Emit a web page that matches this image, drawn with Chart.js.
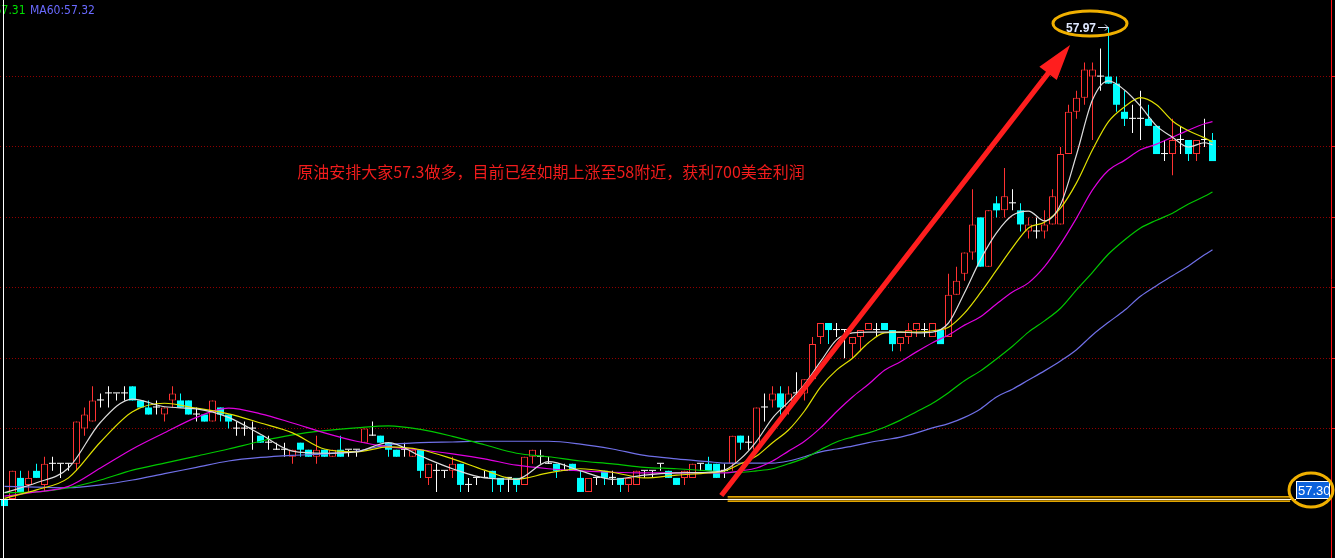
<!DOCTYPE html>
<html>
<head>
<meta charset="utf-8">
<script src="https://cdn.jsdelivr.net/npm/chart.js@4/dist/chart.umd.min.js"></script>
<style>
  html, body { margin: 0; padding: 0; background: #000; overflow: hidden; }
  #wrap { position: relative; width: 1335px; height: 558px; }
</style>
</head>
<body>
<div id="wrap"><canvas id="c" width="1335" height="558"></canvas></div>
<script>
// ---- crude oil candles (open / high / low / close), one per bar ----
const opens = [
  57.30,57.30,57.33,57.32,57.34,57.32,57.35,57.35,57.35,57.35,
  57.40,57.41,57.44,57.45,57.45,57.45,57.46,57.44,57.43,57.43,
  57.42,57.44,57.44,57.44,57.42,57.42,57.41,57.43,57.42,57.40,
  57.40,57.40,57.39,57.38,57.37,57.37,57.36,57.38,57.37,57.36,
  57.37,57.36,57.37,57.37,57.37,57.38,57.39,57.39,57.38,57.37,
  57.37,57.36,57.37,57.33,57.34,57.34,57.34,57.35,57.32,57.33,
  57.33,57.34,57.33,57.33,57.33,57.32,57.36,57.36,57.35,57.35,
  57.34,57.35,57.33,57.31,57.33,57.34,57.33,57.33,57.32,57.32,
  57.34,57.34,57.35,57.34,57.33,57.33,57.33,57.35,57.35,57.35,
  57.34,57.35,57.39,57.38,57.37,57.43,57.44,57.45,57.43,57.45,
  57.45,57.47,57.53,57.55,57.54,57.54,57.52,57.53,57.54,57.54,
  57.55,57.54,57.52,57.53,57.54,57.54,57.53,57.54,57.53,57.59,
  57.62,57.65,57.70,57.63,57.72,57.71,57.72,57.71,57.68,57.68,
  57.68,57.69,57.69,57.79,57.85,57.87,57.90,57.90,57.90,57.89,
  57.85,57.84,57.84,57.84,57.83,57.79,57.79,57.81,57.81,57.79,
  57.81,57.81
];
const highs = [
  57.30,57.34,57.34,57.34,57.35,57.36,57.36,57.35,57.35,57.41,
  57.43,57.46,57.45,57.46,57.45,57.46,57.46,57.44,57.44,57.44,
  57.43,57.46,57.45,57.44,57.43,57.42,57.44,57.43,57.42,57.41,
  57.41,57.41,57.39,57.39,57.38,57.38,57.37,57.38,57.37,57.39,
  57.37,57.37,57.39,57.37,57.37,57.40,57.41,57.39,57.38,57.37,
  57.38,57.37,57.37,57.35,57.35,57.34,57.36,57.35,57.33,57.33,
  57.34,57.34,57.33,57.33,57.33,57.36,57.37,57.37,57.36,57.35,
  57.35,57.35,57.34,57.33,57.33,57.34,57.34,57.33,57.33,57.34,
  57.34,57.34,57.35,57.34,57.33,57.34,57.35,57.35,57.36,57.35,
  57.35,57.39,57.39,57.39,57.43,57.45,57.46,57.46,57.46,57.48,
  57.47,57.53,57.55,57.55,57.55,57.54,57.53,57.54,57.55,57.55,
  57.55,57.54,57.53,57.55,57.55,57.55,57.55,57.54,57.62,57.63,
  57.65,57.74,57.70,57.71,57.73,57.77,57.74,57.72,57.70,57.70,
  57.71,57.74,57.80,57.86,57.88,57.92,57.92,57.94,57.97,57.90,
  57.88,57.86,57.88,57.86,57.83,57.81,57.84,57.83,57.81,57.81,
  57.84,57.82
];
const lows = [
  57.29,57.30,57.31,57.31,57.33,57.31,57.34,57.33,57.34,57.34,
  57.39,57.41,57.43,57.43,57.44,57.44,57.44,57.43,57.42,57.42,
  57.41,57.43,57.43,57.42,57.41,57.41,57.41,57.41,57.40,57.39,
  57.39,57.37,57.38,57.37,57.37,57.36,57.35,57.36,57.36,57.35,
  57.36,57.36,57.36,57.36,57.36,57.38,57.39,57.38,57.36,57.36,
  57.36,57.36,57.33,57.32,57.31,57.33,57.33,57.31,57.31,57.32,
  57.33,57.31,57.31,57.31,57.31,57.32,57.35,57.35,57.35,57.33,
  57.34,57.34,57.31,57.31,57.32,57.32,57.32,57.31,57.31,57.32,
  57.33,57.33,57.34,57.33,57.32,57.32,57.33,57.34,57.34,57.33,
  57.33,57.34,57.37,57.37,57.37,57.41,57.43,57.42,57.42,57.44,
  57.44,57.47,57.52,57.52,57.53,57.50,57.50,57.51,57.54,57.53,
  57.54,57.51,57.51,57.52,57.53,57.53,57.53,57.52,57.53,57.59,
  57.61,57.64,57.63,57.63,57.70,57.70,57.71,57.68,57.67,57.67,
  57.67,57.69,57.69,57.79,57.84,57.86,57.81,57.88,57.89,57.85,
  57.83,57.82,57.81,57.83,57.79,57.78,57.76,57.79,57.78,57.78,
  57.80,57.78
];
const closes = [
  57.29,57.34,57.31,57.33,57.33,57.35,57.35,57.35,57.35,57.41,
  57.42,57.44,57.44,57.45,57.45,57.45,57.44,57.43,57.42,57.43,
  57.43,57.45,57.43,57.42,57.42,57.41,57.44,57.42,57.41,57.40,
  57.40,57.40,57.38,57.38,57.37,57.37,57.37,57.37,57.36,57.37,
  57.36,57.37,57.36,57.37,57.37,57.40,57.39,57.38,57.37,57.36,
  57.37,57.37,57.34,57.35,57.34,57.34,57.35,57.32,57.32,57.33,
  57.33,57.33,57.32,57.33,57.32,57.36,57.37,57.36,57.35,57.34,
  57.34,57.34,57.31,57.33,57.33,57.33,57.33,57.32,57.33,57.34,
  57.34,57.34,57.35,57.33,57.32,57.34,57.35,57.35,57.34,57.33,
  57.34,57.39,57.38,57.38,57.43,57.43,57.45,57.43,57.45,57.45,
  57.47,57.52,57.55,57.54,57.54,57.54,57.53,57.54,57.55,57.54,
  57.54,57.52,57.53,57.54,57.55,57.54,57.55,57.52,57.59,57.61,
  57.65,57.69,57.63,57.71,57.71,57.73,57.72,57.69,57.69,57.68,
  57.69,57.73,57.79,57.85,57.87,57.91,57.91,57.90,57.89,57.86,
  57.84,57.84,57.84,57.83,57.79,57.79,57.81,57.81,57.79,57.81,
  57.81,57.78
];

// ---- moving averages, sampled at these bar indices ----
const maIdx = [
  0,4,8,12,16,20,24,28,32,36,40,44,48,52,56,60,64,68,72,76,80,84,88,
  90,92,94,96,98,100,102,104,106,108,110,112,114,116,118,120,122,124,126,128,
  130,132,134,136,138,140,142,144,146,148,150,151
];
const ma5 = [
  57.309,57.323,57.344,57.409,57.442,57.431,57.428,57.416,57.392,57.368,57.365,57.367,57.380,57.361,57.343,57.330,57.328,57.353,57.340,57.328,57.334,57.337,57.338,
  57.341,57.357,57.382,57.415,57.438,57.463,57.495,57.526,57.536,57.537,57.537,57.537,57.536,57.537,57.550,57.593,57.640,57.678,57.703,57.709,
  57.695,57.718,57.789,57.867,57.894,57.881,57.858,57.830,57.814,57.800,57.806,57.803
];
const ma10 = [
  57.301,57.313,57.330,57.381,57.424,57.436,57.429,57.421,57.408,57.394,57.371,57.367,57.374,57.370,57.357,57.341,57.328,57.337,57.343,57.338,57.330,57.334,57.337,
  57.340,57.350,57.361,57.380,57.398,57.425,57.459,57.483,57.500,57.522,57.536,57.537,57.537,57.539,57.544,57.564,57.593,57.625,57.657,57.685,
  57.693,57.713,57.749,57.796,57.836,57.857,57.870,57.860,57.837,57.823,57.813,57.807
];
const ma20 = [
  57.304,57.310,57.318,57.344,57.371,57.394,57.416,57.429,57.421,57.408,57.394,57.382,57.374,57.370,57.364,57.357,57.348,57.343,57.340,57.338,57.337,57.337,57.337,
  57.337,57.340,57.344,57.354,57.368,57.382,57.401,57.424,57.445,57.463,57.483,57.495,57.509,57.522,57.533,57.547,57.559,57.577,57.594,57.607,
  57.630,57.662,57.699,57.739,57.767,57.781,57.796,57.804,57.814,57.824,57.833,57.836
];
const ma30 = [
  57.309,57.310,57.316,57.327,57.341,57.351,57.361,57.371,57.382,57.391,57.397,57.401,57.404,57.399,57.389,57.377,57.365,57.360,57.354,57.350,57.345,57.343,57.340,
  57.338,57.338,57.340,57.343,57.350,57.358,57.370,57.381,57.388,57.394,57.402,57.412,57.424,57.436,57.451,57.468,57.482,57.499,57.517,57.537,
  57.553,57.571,57.597,57.622,57.648,57.668,57.685,57.696,57.706,57.719,57.730,57.736
];
const ma60 = [
  57.318,57.317,57.316,57.320,57.327,57.336,57.345,57.354,57.359,57.362,57.364,57.368,57.377,57.380,57.381,57.382,57.382,57.382,57.378,57.371,57.362,57.357,57.353,
  57.351,57.351,57.351,57.351,57.354,57.360,57.367,57.371,57.375,57.380,57.384,57.388,57.394,57.401,57.407,57.416,57.428,57.445,57.456,57.469,
  57.482,57.496,57.512,57.533,57.551,57.568,57.588,57.603,57.617,57.631,57.647,57.654
];

// ---- price axis ----
const gridPrices = [57.40, 57.50, 57.60, 57.70, 57.80, 57.90];
const priceMin = 57.2162, priceMax = 58.0088;

// ---- annotations ----
const cursorIndex = 0;           // crosshair bar
const entryPrice = 57.30;        // long entry level
const peakIndex = 138;           // bar with the session high
const noteText = '原油安排大家57.3做多，目前已经如期上涨至58附近，获利700美金利润';
const notePos = { i: 36.6, p: 57.764 };
const arrowFrom = { i: 89.6, p: 57.305 };
const arrowTo = { i: 133.2, p: 57.945 };
const bandFrom = 90.4, bandTo = 160.7;

const UP = '#ff3232', DOWN = '#00ffff', FLAT = '#ffffff';
const kind = i => closes[i] > opens[i] ? 'up' : (closes[i] < opens[i] ? 'down' : 'flat');
const colorOf = i => ({ up: UP, down: DOWN, flat: FLAT })[kind(i)];
const bars = opens.map((_, i) => i);

const slotPx = 8;
const xMin = -0.5625;

function maSeries(values) {
  return maIdx.map((i, k) => ({ x: i, y: values[k] }));
}
function maLine(label, values, color) {
  return {
    type: 'line', label, data: maSeries(values), borderColor: color, borderWidth: 1.2,
    pointRadius: 0, fill: false, cubicInterpolationMode: 'monotone', order: 0
  };
}

function ellipse(ctx, cx, cy, rx, ry) {
  ctx.beginPath();
  ctx.ellipse(cx, cy, rx, ry, 0, 0, Math.PI * 2);
  ctx.stroke();
}

const overlay = {
  id: 'overlay',
  afterDatasetsDraw(chart) {
    const { ctx, chartArea: ca, scales: { x, y } } = chart;
    ctx.save();

    // highlighted entry level
    const yE = Math.round(y.getPixelForValue(entryPrice));
    const bx0 = x.getPixelForValue(bandFrom), bx1 = x.getPixelForValue(bandTo);
    ctx.fillStyle = 'rgba(150,105,0,0.55)';
    ctx.fillRect(bx0, yE - 3, bx1 - bx0, 6);
    ctx.fillStyle = '#e0a400';
    ctx.fillRect(bx0, yE - 3, bx1 - bx0, 1.5);
    ctx.fillRect(bx0, yE + 1.5, bx1 - bx0, 1.5);

    // crosshair
    const cx = Math.round(x.getPixelForValue(cursorIndex)) - 1.5;
    ctx.strokeStyle = '#ffffff';
    ctx.lineWidth = 1;
    ctx.beginPath();
    ctx.moveTo(cx, 0); ctx.lineTo(cx, chart.height);
    ctx.stroke();
    ctx.beginPath();
    ctx.moveTo(0, yE + 0.5); ctx.lineTo(ca.right - 35, yE + 0.5);
    ctx.stroke();

    // trend arrow
    const ax0 = x.getPixelForValue(arrowFrom.i), ay0 = y.getPixelForValue(arrowFrom.p);
    const ax1 = x.getPixelForValue(arrowTo.i), ay1 = y.getPixelForValue(arrowTo.p);
    const dx = ax1 - ax0, dy = ay1 - ay0, len = Math.hypot(dx, dy);
    const ux = dx / len, uy = dy / len, nx = -uy, ny = ux;
    const headLen = 36, headHalf = 11, shaftHalf = 2.6;
    const hx = ax1 - ux * headLen, hy = ay1 - uy * headLen;
    ctx.fillStyle = '#ff1e1e';
    ctx.beginPath();
    ctx.moveTo(ax0 + nx * shaftHalf, ay0 + ny * shaftHalf);
    ctx.lineTo(hx + nx * shaftHalf, hy + ny * shaftHalf);
    ctx.lineTo(hx + nx * headHalf, hy + ny * headHalf);
    ctx.lineTo(ax1, ay1);
    ctx.lineTo(hx - nx * headHalf, hy - ny * headHalf);
    ctx.lineTo(hx - nx * shaftHalf, hy - ny * shaftHalf);
    ctx.lineTo(ax0 - nx * shaftHalf, ay0 - ny * shaftHalf);
    ctx.closePath();
    ctx.fill();

    // note
    ctx.font = '16px "Noto Sans CJK SC", sans-serif';
    ctx.fillStyle = '#f01c1c';
    ctx.textBaseline = 'middle';
    ctx.textAlign = 'left';
    ctx.fillText(noteText, x.getPixelForValue(notePos.i), y.getPixelForValue(notePos.p));

    // session high marker
    const px = Math.round(x.getPixelForValue(peakIndex)), py = Math.round(y.getPixelForValue(highs[peakIndex]));
    ctx.strokeStyle = '#dfe8ff';
    ctx.lineWidth = 1;
    ctx.beginPath();
    ctx.moveTo(px - 11, py + 0.5); ctx.lineTo(px - 1, py + 0.5);
    ctx.moveTo(px - 4, py - 2.5); ctx.lineTo(px - 1, py + 0.5); ctx.lineTo(px - 4, py + 3.5);
    ctx.stroke();
    ctx.font = 'bold 12px "Liberation Sans", Arial, sans-serif';
    ctx.fillStyle = '#dfe8ff';
    ctx.textAlign = 'right';
    ctx.textBaseline = 'alphabetic';
    ctx.fillText(highs[peakIndex].toFixed(2), px - 13, py + 5);
    ctx.strokeStyle = '#f0b000';
    ctx.lineWidth = 3;
    ellipse(ctx, px - 19, py - 3.5, 37, 12.5);

    // price tag on the right edge
    const tagW = 34, tagH = 18, tagX = ca.right - 35;
    ctx.fillStyle = '#0c62dc';
    ctx.fillRect(tagX, yE - tagH, tagW, tagH);
    ctx.strokeStyle = '#ffffff';
    ctx.lineWidth = 1;
    ctx.strokeRect(tagX + 0.5, yE - tagH + 0.5, tagW - 1, tagH - 1);
    ctx.font = '13px "Liberation Sans", Arial, sans-serif';
    ctx.fillStyle = '#ffffff';
    ctx.textAlign = 'left';
    ctx.fillText(entryPrice.toFixed(2), tagX + 2, yE - 4);
    ctx.strokeStyle = '#f0b000';
    ctx.lineWidth = 3;
    ellipse(ctx, tagX + 15, yE - 9, 22, 17);

    ctx.restore();
  },
  afterDraw(chart) {
    const { ctx, scales: { x } } = chart;
    ctx.save();
    ctx.font = '12px "DejaVu Sans Condensed", "DejaVu Sans", sans-serif';
    ctx.textBaseline = 'alphabetic';
    ctx.textAlign = 'left';
    const k = maIdx.indexOf(cursorIndex);
    const t30 = 'MA30:' + ma30[k].toFixed(2) + ' ';
    const t60 = 'MA60:' + ma60[k].toFixed(2);
    const w30 = ctx.measureText(t30).width;
    ctx.fillStyle = '#00e000';
    ctx.fillText(t30, 29 - w30, 14);
    ctx.fillStyle = '#6a6aff';
    ctx.fillText(t60, 30, 14);
    ctx.fillStyle = '#ffffff';
    ctx.fillRect(Math.round(x.getPixelForValue(cursorIndex)) - 2, 0, 1, 20);
    ctx.restore();
  }
};

new Chart(document.getElementById('c'), {
  data: {
    datasets: [
      maLine('MA5', ma5, '#dcdcdc'),
      maLine('MA10', ma10, '#e0e000'),
      maLine('MA20', ma20, '#e000e0'),
      maLine('MA30', ma30, '#00c800'),
      maLine('MA60', ma60, '#7070e8'),
      {
        type: 'bar', label: 'body', order: 1, grouped: false,
        data: bars.map(i => ({ x: i, y: [opens[i], closes[i]] })),
        backgroundColor: c => kind(c.dataIndex) === 'up' ? '#000000' : colorOf(c.dataIndex),
        borderColor: c => colorOf(c.dataIndex),
        borderWidth: c => kind(c.dataIndex) === 'up' ? 1 : 0,
        borderSkipped: false, barThickness: 7, minBarLength: 1, inflateAmount: 0
      },
      {
        type: 'bar', label: 'wick', order: 2, grouped: false,
        data: bars.map(i => ({ x: i, y: [lows[i], highs[i]] })),
        backgroundColor: c => colorOf(c.dataIndex),
        borderWidth: 0, barThickness: 1, minBarLength: 0, inflateAmount: 0
      }
    ]
  },
  options: {
    responsive: false,
    animation: false,
    devicePixelRatio: 1,
    layout: { padding: 0 },
    plugins: { legend: { display: false }, tooltip: { enabled: false } },
    scales: {
      x: {
        type: 'linear', display: false, offset: false, bounds: 'data', grace: 0,
        min: xMin, max: xMin + 1331 / slotPx, grid: { offset: false }
      },
      y: {
        type: 'linear', position: 'right', min: priceMin, max: priceMax,
        afterBuildTicks: s => { s.ticks = gridPrices.map(v => ({ value: v })); },
        ticks: { display: false },
        grid: { color: '#900000', lineWidth: 1, drawTicks: true, tickLength: 4, tickColor: '#ff1010', tickWidth: 1 },
        border: { display: true, color: '#ff1010', width: 1, dash: [1, 2] }
      }
    }
  },
  plugins: [overlay]
});
</script>
</body>
</html>
